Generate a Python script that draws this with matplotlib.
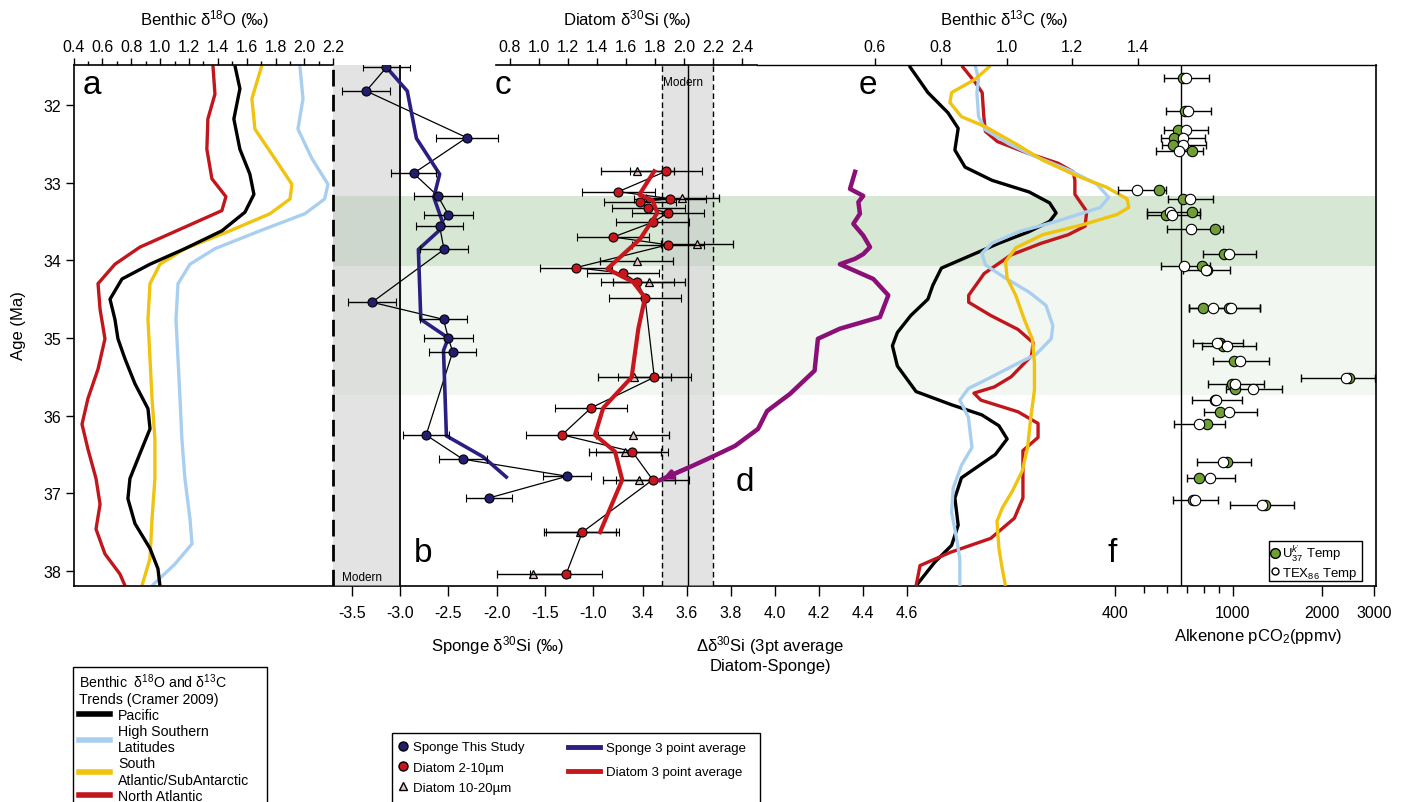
import numpy as np
import matplotlib.pyplot as plt
from matplotlib.lines import Line2D
from matplotlib.patches import Rectangle
from matplotlib.ticker import FixedLocator, FixedFormatter, NullFormatter, FormatStrFormatter

plt.rcParams['font.family'] = ['Liberation Sans', 'DejaVu Sans']
plt.rcParams['mathtext.fontset'] = 'custom'
plt.rcParams['mathtext.rm'] = 'Liberation Sans'
plt.rcParams['mathtext.it'] = 'Liberation Sans:italic'
plt.rcParams['mathtext.default'] = 'regular'

# ---- panel a: benthic d18O trends (Cramer 2009)
pac18_age = [31.49, 31.79, 32.18, 32.57, 32.89, 33.15, 33.38, 33.62, 33.85, 34.05, 34.24, 34.50,
             34.76, 35.01, 35.27, 35.59, 35.91, 36.17, 36.49, 36.81, 37.07, 37.39, 37.71, 37.97, 38.19]
pac18 = [1.518, 1.553, 1.511, 1.553, 1.622, 1.65, 1.588, 1.428, 1.172, 0.93, 0.736, 0.653,
         0.687, 0.708, 0.757, 0.826, 0.916, 0.93, 0.86, 0.791, 0.777, 0.826, 0.93, 0.985, 0.999]
hsl18_age = [31.49, 31.92, 32.31, 32.69, 33.02, 33.21, 33.40, 33.62, 33.85, 34.05, 34.30, 34.76,
             35.27, 35.78, 36.30, 36.81, 37.33, 37.65, 37.91, 38.19]
hsl18 = [1.968, 1.99, 1.955, 2.052, 2.163, 2.14, 2.003, 1.692, 1.38, 1.207, 1.124, 1.11,
         1.124, 1.138, 1.151, 1.172, 1.207, 1.221, 1.103, 0.944]
sat18_age = [31.49, 31.92, 32.31, 32.69, 33.02, 33.21, 33.40, 33.62, 33.85, 34.05, 34.30, 34.76,
             35.27, 35.78, 36.30, 36.81, 37.33, 37.84, 38.19]
sat18 = [1.705, 1.636, 1.657, 1.795, 1.913, 1.9, 1.761, 1.484, 1.172, 0.999, 0.93, 0.916,
         0.93, 0.944, 0.964, 0.964, 0.944, 0.93, 0.874]
nat18_age = [31.49, 31.86, 32.18, 32.57, 32.95, 33.18, 33.36, 33.60, 33.83, 34.05, 34.30, 34.63,
             35.01, 35.40, 35.78, 36.11, 36.43, 36.81, 37.14, 37.46, 37.78, 38.04, 38.19]
nat18 = [1.366, 1.38, 1.331, 1.324, 1.359, 1.456, 1.428, 1.138, 0.86, 0.687, 0.57, 0.584,
         0.618, 0.57, 0.5, 0.459, 0.5, 0.556, 0.584, 0.556, 0.618, 0.722, 0.757]

# ---- panel b: sponge d30Si
sponge_age = [31.515, 31.82, 32.42, 32.88, 33.17, 33.41, 33.56, 33.86, 34.54, 34.76, 35.0, 35.18,
              36.25, 36.56, 36.78, 37.06]
sponge_si = [-3.14, -3.35, -2.31, -2.86, -2.61, -2.50, -2.59, -2.545, -3.29, -2.55, -2.50, -2.455,
             -2.73, -2.35, -1.27, -2.08]
sponge_err = [0.24, 0.25, 0.32, 0.23, 0.25, 0.25, 0.24, 0.25, 0.25, 0.245, 0.25, 0.245,
              0.235, 0.245, 0.25, 0.24]
sponge_avg_age = [31.515, 31.82, 32.43, 32.89, 33.19, 33.56, 33.86, 34.76, 35.0, 35.16, 36.26, 36.53, 36.79]
sponge_avg = [-3.14, -2.925, -2.83, -2.59, -2.65, -2.545, -2.81, -2.785, -2.50, -2.55, -2.52, -2.14, -1.90]
sponge_modern = (-3.69, -3.0)

# ---- panel c: diatom d30Si
diatom_age = [32.853, 33.116, 33.206, 33.248, 33.322, 33.39, 33.51, 33.70, 33.80, 34.094, 34.166,
              34.282, 34.48, 35.505, 35.90, 36.247, 36.462, 36.826, 37.50, 38.045]
diatom_si = [1.876, 1.547, 1.903, 1.697, 1.754, 1.888, 1.784, 1.512, 1.888, 1.255, 1.581,
             1.678, 1.731, 1.795, 1.359, 1.159, 1.643, 1.784, 1.299, 1.186]
diatom_err = 0.25
big_age = [32.853, 33.197, 33.789, 34.008, 34.282, 35.505, 36.247, 36.462, 36.826, 37.50, 38.045]
big_si = [1.678, 1.988, 2.088, 1.674, 1.759, 1.657, 1.646, 1.593, 1.690, 1.283, 0.961]
big_err = 0.25
diatom_avg_age = [32.853, 33.154, 33.23, 33.39, 33.725, 34.11, 34.28, 34.48, 34.88, 35.505,
                  35.90, 36.247, 36.462, 36.826, 37.50]
diatom_avg = [1.795, 1.692, 1.784, 1.816, 1.697, 1.471, 1.650, 1.731, 1.685, 1.639,
              1.443, 1.386, 1.524, 1.574, 1.421]
diatom_modern = (1.85, 2.03, 2.20)

# ---- panel d: diatom - sponge offset (3 pt average)
delta_age = [32.86, 33.08, 33.17, 33.25, 33.40, 33.53, 33.68, 33.83, 33.92, 33.98, 34.05, 34.24,
             34.45, 34.73, 34.88, 35.01, 35.42, 35.72, 35.94, 36.17, 36.39, 36.53, 36.66, 36.83]
delta_si = [4.364, 4.341, 4.401, 4.379, 4.386, 4.356, 4.401, 4.432, 4.401, 4.364, 4.295, 4.447,
            4.515, 4.477, 4.295, 4.195, 4.18, 4.068, 3.964, 3.923, 3.818, 3.714, 3.614, 3.477]

# ---- panel e: benthic d13C trends
pac13_age = [31.495, 31.84, 32.10, 32.30, 32.58, 32.80, 32.97, 33.12, 33.26, 33.39, 33.50, 33.63,
             33.78, 33.95, 34.10, 34.32, 34.50, 34.71, 34.93, 35.10, 35.36, 35.69, 35.86, 35.99,
             36.13, 36.30, 36.50, 36.80, 37.06, 37.41, 37.67, 37.89, 38.19]
pac13 = [0.704, 0.761, 0.822, 0.853, 0.843, 0.874, 0.956, 1.069, 1.131, 1.151, 1.131, 1.069,
         0.977, 0.884, 0.802, 0.776, 0.761, 0.709, 0.668, 0.653, 0.668, 0.725, 0.833, 0.925,
         0.977, 1.002, 0.966, 0.863, 0.843, 0.853, 0.833, 0.781, 0.725]
nat13_age = [31.495, 31.71, 31.84, 32.15, 32.34, 32.47, 32.62, 32.75, 32.86, 32.97, 33.15, 33.37,
             33.56, 33.67, 33.78, 33.93, 34.17, 34.45, 34.54, 34.71, 34.89, 35.06, 35.23, 35.50,
             35.63, 35.71, 35.80, 35.95, 36.10, 36.28, 36.45, 36.80, 37.06, 37.32, 37.58, 37.76,
             37.93, 38.19]
nat13 = [0.864, 0.905, 0.926, 0.931, 0.936, 0.972, 1.064, 1.157, 1.203, 1.208, 1.208, 1.244,
         1.239, 1.188, 1.106, 1.014, 0.932, 0.885, 0.885, 0.952, 1.035, 1.081, 1.076, 1.014,
         0.963, 0.901, 0.922, 1.035, 1.096, 1.096, 1.050, 1.050, 1.050, 1.024, 0.952, 0.829,
         0.737, 0.725]
hsl13_age = [31.495, 31.67, 31.84, 32.15, 32.32, 32.50, 32.65, 32.84, 33.02, 33.19, 33.32, 33.50,
             33.63, 33.78, 33.91, 34.06, 34.23, 34.41, 34.58, 34.84, 35.01, 35.21, 35.34, 35.52,
             35.65, 35.80, 36.02, 36.41, 36.63, 36.93, 37.24, 37.58, 37.84, 38.19]
hsl13 = [0.905, 0.915, 0.910, 0.915, 0.936, 1.007, 1.080, 1.192, 1.275, 1.311, 1.285, 1.151,
         1.038, 0.956, 0.925, 0.936, 0.997, 1.069, 1.120, 1.141, 1.136, 1.090, 1.028, 0.946,
         0.884, 0.858, 0.884, 0.895, 0.864, 0.838, 0.833, 0.848, 0.858, 0.858]
sat13_age = [31.495, 31.67, 31.84, 31.97, 32.15, 32.28, 32.50, 32.71, 32.91, 33.06, 33.21, 33.32,
             33.41, 33.54, 33.67, 33.84, 34.02, 34.23, 34.45, 34.76, 35.02, 35.32, 35.67, 36.02,
             36.41, 36.71, 36.97, 37.19, 37.36, 37.71, 37.97, 38.19]
sat13 = [0.951, 0.904, 0.833, 0.828, 0.863, 0.936, 1.028, 1.110, 1.213, 1.305, 1.367, 1.372,
         1.336, 1.233, 1.110, 1.028, 0.997, 1.002, 1.028, 1.054, 1.079, 1.085, 1.085, 1.074,
         1.064, 1.048, 1.018, 0.987, 0.971, 0.977, 0.987, 0.997]

# ---- panel f: alkenone pCO2 (ppmv)
pco2_age = [31.656, 32.081, 32.32, 32.42, 32.51, 32.59, 33.09, 33.21, 33.38, 33.41, 33.60, 33.92,
            34.07, 34.12, 34.62, 34.61, 35.07, 35.10, 35.29, 35.52, 35.59, 35.66, 35.80, 35.95,
            36.11, 36.60, 36.80, 37.09, 37.15]
pco2_uk37 = [681, 690, 652, 633, 630, 730, 562, 681, 727, 595, 871, 937, 789, 817, 796, 975, 905,
             929, 1010, 2477, 992, 1020, 870, 906, 817, 954, 769, 733, 1285]
pco2_tex86 = [695, 708, 694, 678, 681, 659, 474, 717, 614, 625, 723, 972, 686, 811, 860, 984, 883,
              959, 1059, 2409, 1020, 1168, 878, 974, 769, 929, 838, 746, 1253]
pco2_lo = [587, 595, 587, 573, 576, 551, 410, 603, 515, 515, 598, 796, 571, 681, 714, 714, 733,
           786, 860, 1697, 827, 949, 727, 800, 635, 756, 703, 627, 979]
pco2_hi = [832, 845, 823, 806, 811, 792, 595, 856, 775, 775, 929, 1199, 838, 979, 1237, 1237,
           1086, 1196, 1323, 3025, 1276, 1467, 1078, 1205, 942, 1150, 1018, 894, 1615]
pco2_line = 670

# green bands (Ma)
eot_band = (33.17, 34.07)
pre_band = (34.07, 35.74)

age_ticks = [32, 33, 34, 35, 36, 37, 38]
d18o_ticks = [0.4, 0.6, 0.8, 1.0, 1.2, 1.4, 1.6, 1.8, 2.0, 2.2]
sponge_ticks = [-3.5, -3.0, -2.5, -2.0, -1.5, -1.0]
diatom_ticks = [0.8, 1.0, 1.2, 1.4, 1.6, 1.8, 2.0, 2.2, 2.4]
delta_ticks = [3.4, 3.6, 3.8, 4.0, 4.2, 4.4, 4.6]
d13c_ticks = [0.6, 0.8, 1.0, 1.2, 1.4]
pco2_ticks = [400, 1000, 2000, 3000]
pco2_minor = [500, 600, 700, 800, 900]

# colours
C_PAC, C_HSL, C_SAT, C_NAT = 'black', '#a9cff0', '#f0c30f', '#c1161c'
C_NAVY, C_RED, C_PURP, C_GRN = '#221d6e', '#c8161d', '#8a1078', '#6f9e35'

# ---------------- layout (pixels)
W, H = 1403, 803
L, R, T, B = 73.5, 1375.5, 66, 587


def cal(v1, p1, v2, p2, a, b):
    k = (v2 - v1) / (p2 - p1)
    return v1 + k * (a - p1), v1 + k * (b - p1)


def fx(x):
    return x / W


def fy(y):
    return 1 - y / H


fig = plt.figure(figsize=(W / 100, H / 100), dpi=100)
rect = [L / W, 1 - B / H, (R - L) / W, (B - T) / H]

ax_a = fig.add_axes(rect)
ax_a.set_xlim(*cal(0.4, 73.5, 2.2, 333.3, L, R))
y_bot, y_top = cal(32, 106, 38, 572, B, T)
ax_a.set_ylim(y_bot, y_top)


def overlay(xlim, log=False):
    ax = fig.add_axes(rect, sharey=ax_a)
    ax.patch.set_visible(False)
    if log:
        ax.set_xscale('log')
    ax.set_xlim(*xlim)
    for s in ax.spines.values():
        s.set_visible(False)
    ax.tick_params(axis='y', left=False, labelleft=False, right=False, labelright=False)
    ax.tick_params(axis='x', which='both', bottom=False, labelbottom=False, top=False, labeltop=False)
    return ax


ax_b = overlay(cal(-3.5, 351.7, -1.0, 593.3, L, R))
ax_c = overlay(cal(0.8, 510, 2.4, 742, L, R))
ax_d = overlay(cal(3.4, 643, 4.6, 907, L, R))
ax_e = overlay(cal(0.6, 875, 1.4, 1138, L, R))
flo, fhi = cal(np.log10(400), 1114.8, 3.0, 1232.7, L, R)
ax_f = overlay((10 ** flo, 10 ** fhi), log=True)

tick_kw = dict(direction='out', labelsize=11.5, width=1, color='black')

# base frame (panel a)
ax_a.spines['right'].set_visible(False)
ax_a.spines['top'].set_bounds(0.4, 2.2)
for s in ('left', 'bottom', 'top'):
    ax_a.spines[s].set_linewidth(1.2)
ax_a.xaxis.tick_top()
ax_a.set_xticks(d18o_ticks)
ax_a.xaxis.set_major_formatter(FormatStrFormatter('%.1f'))
ax_a.set_xticks([v + 0.1 for v in d18o_ticks[:-1]], minor=True)
ax_a.tick_params(axis='x', which='major', length=5, pad=3, **tick_kw)
ax_a.tick_params(axis='x', which='minor', length=3, direction='out', width=1)
ax_a.set_yticks(age_ticks)
ax_a.tick_params(axis='y', length=6, pad=3, **tick_kw)

# sponge axis (bottom)
ax_b.set_xticks(sponge_ticks)
ax_b.xaxis.set_major_formatter(FormatStrFormatter('%.1f'))
ax_b.tick_params(axis='x', bottom=True, labelbottom=True, length=7, pad=7, **tick_kw)

# diatom axis (top)
ax_c.spines['top'].set_visible(True)
ax_c.spines['top'].set_linewidth(1.2)
ax_c.spines['top'].set_bounds(*cal(0.8, 510, 2.4, 742, 496, 757))
ax_c.set_xticks(diatom_ticks)
ax_c.xaxis.set_major_formatter(FormatStrFormatter('%.1f'))
ax_c.tick_params(axis='x', top=True, labeltop=True, length=5, pad=3, **tick_kw)

# delta axis (bottom)
ax_d.set_xticks(delta_ticks)
ax_d.xaxis.set_major_formatter(FormatStrFormatter('%.1f'))
ax_d.tick_params(axis='x', bottom=True, labelbottom=True, length=7, pad=7, **tick_kw)

# d13C axis (top) + right frame
ax_e.spines['top'].set_visible(True)
ax_e.spines['top'].set_linewidth(1.0)
ax_e.spines['top'].set_bounds(cal(0.6, 875, 1.4, 1138, 757, R)[0], ax_e.get_xlim()[1])
ax_e.spines['right'].set_visible(True)
ax_e.spines['right'].set_linewidth(1.2)
ax_e.set_xticks(d13c_ticks)
ax_e.xaxis.set_major_formatter(FormatStrFormatter('%.1f'))
ax_e.tick_params(axis='x', top=True, labeltop=True, length=5, pad=3, **tick_kw)

# pCO2 axis (bottom, log)
ax_f.xaxis.set_major_locator(FixedLocator(pco2_ticks))
ax_f.xaxis.set_major_formatter(FixedFormatter([str(v) for v in pco2_ticks]))
ax_f.xaxis.set_minor_locator(FixedLocator(pco2_minor))
ax_f.xaxis.set_minor_formatter(NullFormatter())
ax_f.tick_params(axis='x', which='major', bottom=True, labelbottom=True, length=7, pad=7, **tick_kw)
ax_f.tick_params(axis='x', which='minor', bottom=True, length=5, direction='out', width=1)

# background bands
x0 = (333 - L) / (R - L)
ax_a.axhspan(*eot_band, xmin=x0, xmax=1, color='#d6e7d3', lw=0, zorder=0)
ax_a.axhspan(*pre_band, xmin=x0, xmax=1, color='#f2f7f1', lw=0, zorder=0)

ax_b.axvspan(*sponge_modern, color='#c8c8c8', alpha=0.5, lw=0, zorder=0)
ax_b.axvline(sponge_modern[0], color='black', lw=2, ls=(0, (6, 3)), zorder=1)
ax_b.axvline(sponge_modern[1], color='black', lw=1.3, zorder=1)
ax_c.axvspan(diatom_modern[0], diatom_modern[2], color='#c8c8c8', alpha=0.5, lw=0, zorder=0)
ax_c.axvline(diatom_modern[0], color='black', lw=1, ls=(0, (4, 2.5)), zorder=1)
ax_c.axvline(diatom_modern[2], color='black', lw=1, ls=(0, (4, 2.5)), zorder=1)
ax_c.axvline(diatom_modern[1], color='black', lw=1, zorder=1)
ax_f.axvline(pco2_line, color='black', lw=1, zorder=1)

# panel a curves
line_kw = dict(lw=2.4, solid_joinstyle='round', solid_capstyle='butt')
ax_a.plot(nat18, nat18_age, color=C_NAT, **line_kw)
ax_a.plot(sat18, sat18_age, color=C_SAT, **line_kw)
ax_a.plot(hsl18, hsl18_age, color=C_HSL, **line_kw)
ax_a.plot(pac18, pac18_age, color=C_PAC, **line_kw)

# panel e curves
ax_e.plot(pac13, pac13_age, color=C_PAC, **line_kw)
ax_e.plot(nat13, nat13_age, color=C_NAT, **line_kw)
ax_e.plot(hsl13, hsl13_age, color=C_HSL, **line_kw)
ax_e.plot(sat13, sat13_age, color=C_SAT, **line_kw)

# sponge
err_kw = dict(ecolor='black', elinewidth=1, capsize=3, capthick=1)
ax_b.plot(sponge_avg, sponge_avg_age, color='#2a1f80', lw=2.6, solid_joinstyle='round', zorder=3)
ax_b.plot(sponge_si, sponge_age, color='black', lw=0.9, zorder=2)
ax_b.errorbar(sponge_si, sponge_age, xerr=sponge_err, fmt='o', ms=6.5, mfc=C_NAVY, mec='black',
              mew=0.8, zorder=4, **err_kw)

# diatoms
ax_c.plot(diatom_si, diatom_age, color='black', lw=0.9, zorder=2)
ax_c.errorbar(big_si, big_age, xerr=big_err, fmt='^', ms=6, mfc='#e9c7c7', mec='black', mew=0.9,
              zorder=3, **err_kw)
ax_c.errorbar(diatom_si, diatom_age, xerr=diatom_err, fmt='o', ms=6.5, mfc=C_RED, mec='black',
              mew=0.8, zorder=4, **err_kw)
ax_c.plot(diatom_avg, diatom_avg_age, color=C_RED, lw=3, solid_joinstyle='round', zorder=5)

# offset
ax_d.plot(delta_si, delta_age, color=C_PURP, lw=3.2, solid_joinstyle='round', zorder=5)
ax_d.annotate('', xy=(delta_si[-1], delta_age[-1]), xytext=(delta_si[-2], delta_age[-2]),
              arrowprops=dict(arrowstyle='-|>', color=C_PURP, lw=3, mutation_scale=12), zorder=5)

# pCO2
uk = np.array(pco2_uk37)
ax_f.errorbar(uk, pco2_age, xerr=[uk - np.array(pco2_lo), np.array(pco2_hi) - uk], fmt='none',
              zorder=3, **err_kw)
ax_f.plot(pco2_uk37, pco2_age, 'o', ms=7.5, mfc=C_GRN, mec='black', mew=0.8, zorder=4)
ax_f.plot(pco2_tex86, pco2_age, 'o', ms=7.5, mfc='white', mec='black', mew=0.8, zorder=5)

# ---------------- texts
lab_kw = dict(fontsize=12, ha='center', va='center')
fig.text(fx(205), fy(20), r'Benthic $\delta^{18}$O (‰)', **lab_kw)
fig.text(fx(627), fy(20), r'Diatom $\delta^{30}$Si (‰)', **lab_kw)
fig.text(fx(1004), fy(20), r'Benthic $\delta^{13}$C (‰)', **lab_kw)
fig.text(fx(497), fy(646), r'Sponge $\delta^{30}$Si (‰)', **lab_kw)
fig.text(fx(770), fy(646), r'$\Delta\delta^{30}$Si (3pt average', **lab_kw)
fig.text(fx(770), fy(667), 'Diatom-Sponge)', **lab_kw)
fig.text(fx(1258), fy(637), r'Alkenone pCO$_2$(ppmv)', **lab_kw)
fig.text(fx(18), fy(326), 'Age (Ma)', rotation=90, **lab_kw)

let_kw = dict(fontsize=24, ha='center', va='center')
for lt, x, y in [('a', 92, 86), ('b', 423, 554), ('c', 503, 86), ('d', 745, 483), ('e', 868, 86), ('f', 1112, 554)]:
    fig.text(fx(x), fy(y), lt, **let_kw)

fig.text(fx(362), fy(578), 'Modern', fontsize=8.5, ha='center', va='center')
fig.text(fx(683), fy(83), 'Modern', fontsize=8.5, ha='center', va='center')

# ---------------- legends
fig.add_artist(Rectangle((fx(73), fy(812)), (267 - 73) / W, (812 - 668) / H, transform=fig.transFigure,
                         fill=False, ec='black', lw=1))
bench_labels = ['Pacific', 'High Southern\nLatitudes', 'South\nAtlantic/SubAntarctic', 'North Atlantic']
bench_handles = [Line2D([], [], color=c, lw=4) for c in (C_PAC, C_HSL, C_SAT, C_NAT)]
fig.legend(bench_handles, bench_labels, loc='upper left', bbox_to_anchor=(fx(79), fy(672)),
           frameon=False, fontsize=10.2,
           title='Benthic  $\\delta^{18}$O and $\\delta^{13}$C\nTrends (Cramer 2009)',
           title_fontsize=10.2, alignment='left', handlelength=2.2, handletextpad=0.55,
           borderpad=0, labelspacing=0.15, borderaxespad=0)

fig.add_artist(Rectangle((fx(392), fy(806)), (760 - 392) / W, (806 - 734) / H, transform=fig.transFigure,
                         fill=False, ec='black', lw=1))
mk_handles = [Line2D([], [], ls='none', marker='o', ms=6.5, mfc=C_NAVY, mec='black'),
              Line2D([], [], ls='none', marker='o', ms=6.5, mfc=C_RED, mec='black'),
              Line2D([], [], ls='none', marker='^', ms=6, mfc='#e9c7c7', mec='black')]
fig.legend(mk_handles, ['Sponge This Study', 'Diatom 2-10µm', 'Diatom 10-20µm'], loc='upper left',
           bbox_to_anchor=(fx(398), fy(742)), frameon=False, fontsize=9.5, handlelength=0.8,
           handletextpad=0.3, labelspacing=0.62, borderaxespad=0, borderpad=0)
ln_handles = [Line2D([], [], color='#2a1f80', lw=3.5), Line2D([], [], color=C_RED, lw=3.5)]
fig.legend(ln_handles, ['Sponge 3 point average', 'Diatom 3 point average'], loc='upper left',
           bbox_to_anchor=(fx(568), fy(743)), frameon=False, fontsize=9.5, handlelength=2.4,
           handletextpad=0.5, labelspacing=0.9, borderaxespad=0, borderpad=0)

fig.add_artist(Rectangle((fx(1269), fy(582)), (1362 - 1269) / W, (582 - 542) / H, transform=fig.transFigure,
                         fill=True, fc='white', ec='black', lw=1, zorder=3))
leg_f = fig.legend([Line2D([], [], ls='none', marker='o', ms=7, mfc=C_GRN, mec='black'),
                    Line2D([], [], ls='none', marker='o', ms=5, mfc='white', mec='black')],
                   [r"U$^{\mathit{k'}}_{37}$ Temp", r'TEX$_{86}$ Temp'], loc='upper left',
                   bbox_to_anchor=(fx(1271), fy(544)), frameon=False, fontsize=9.5, handlelength=0.6,
                   handletextpad=0.2, labelspacing=0.1, borderaxespad=0, borderpad=0)
leg_f.set_zorder(10)

fig.savefig('out.png', dpi=100)
